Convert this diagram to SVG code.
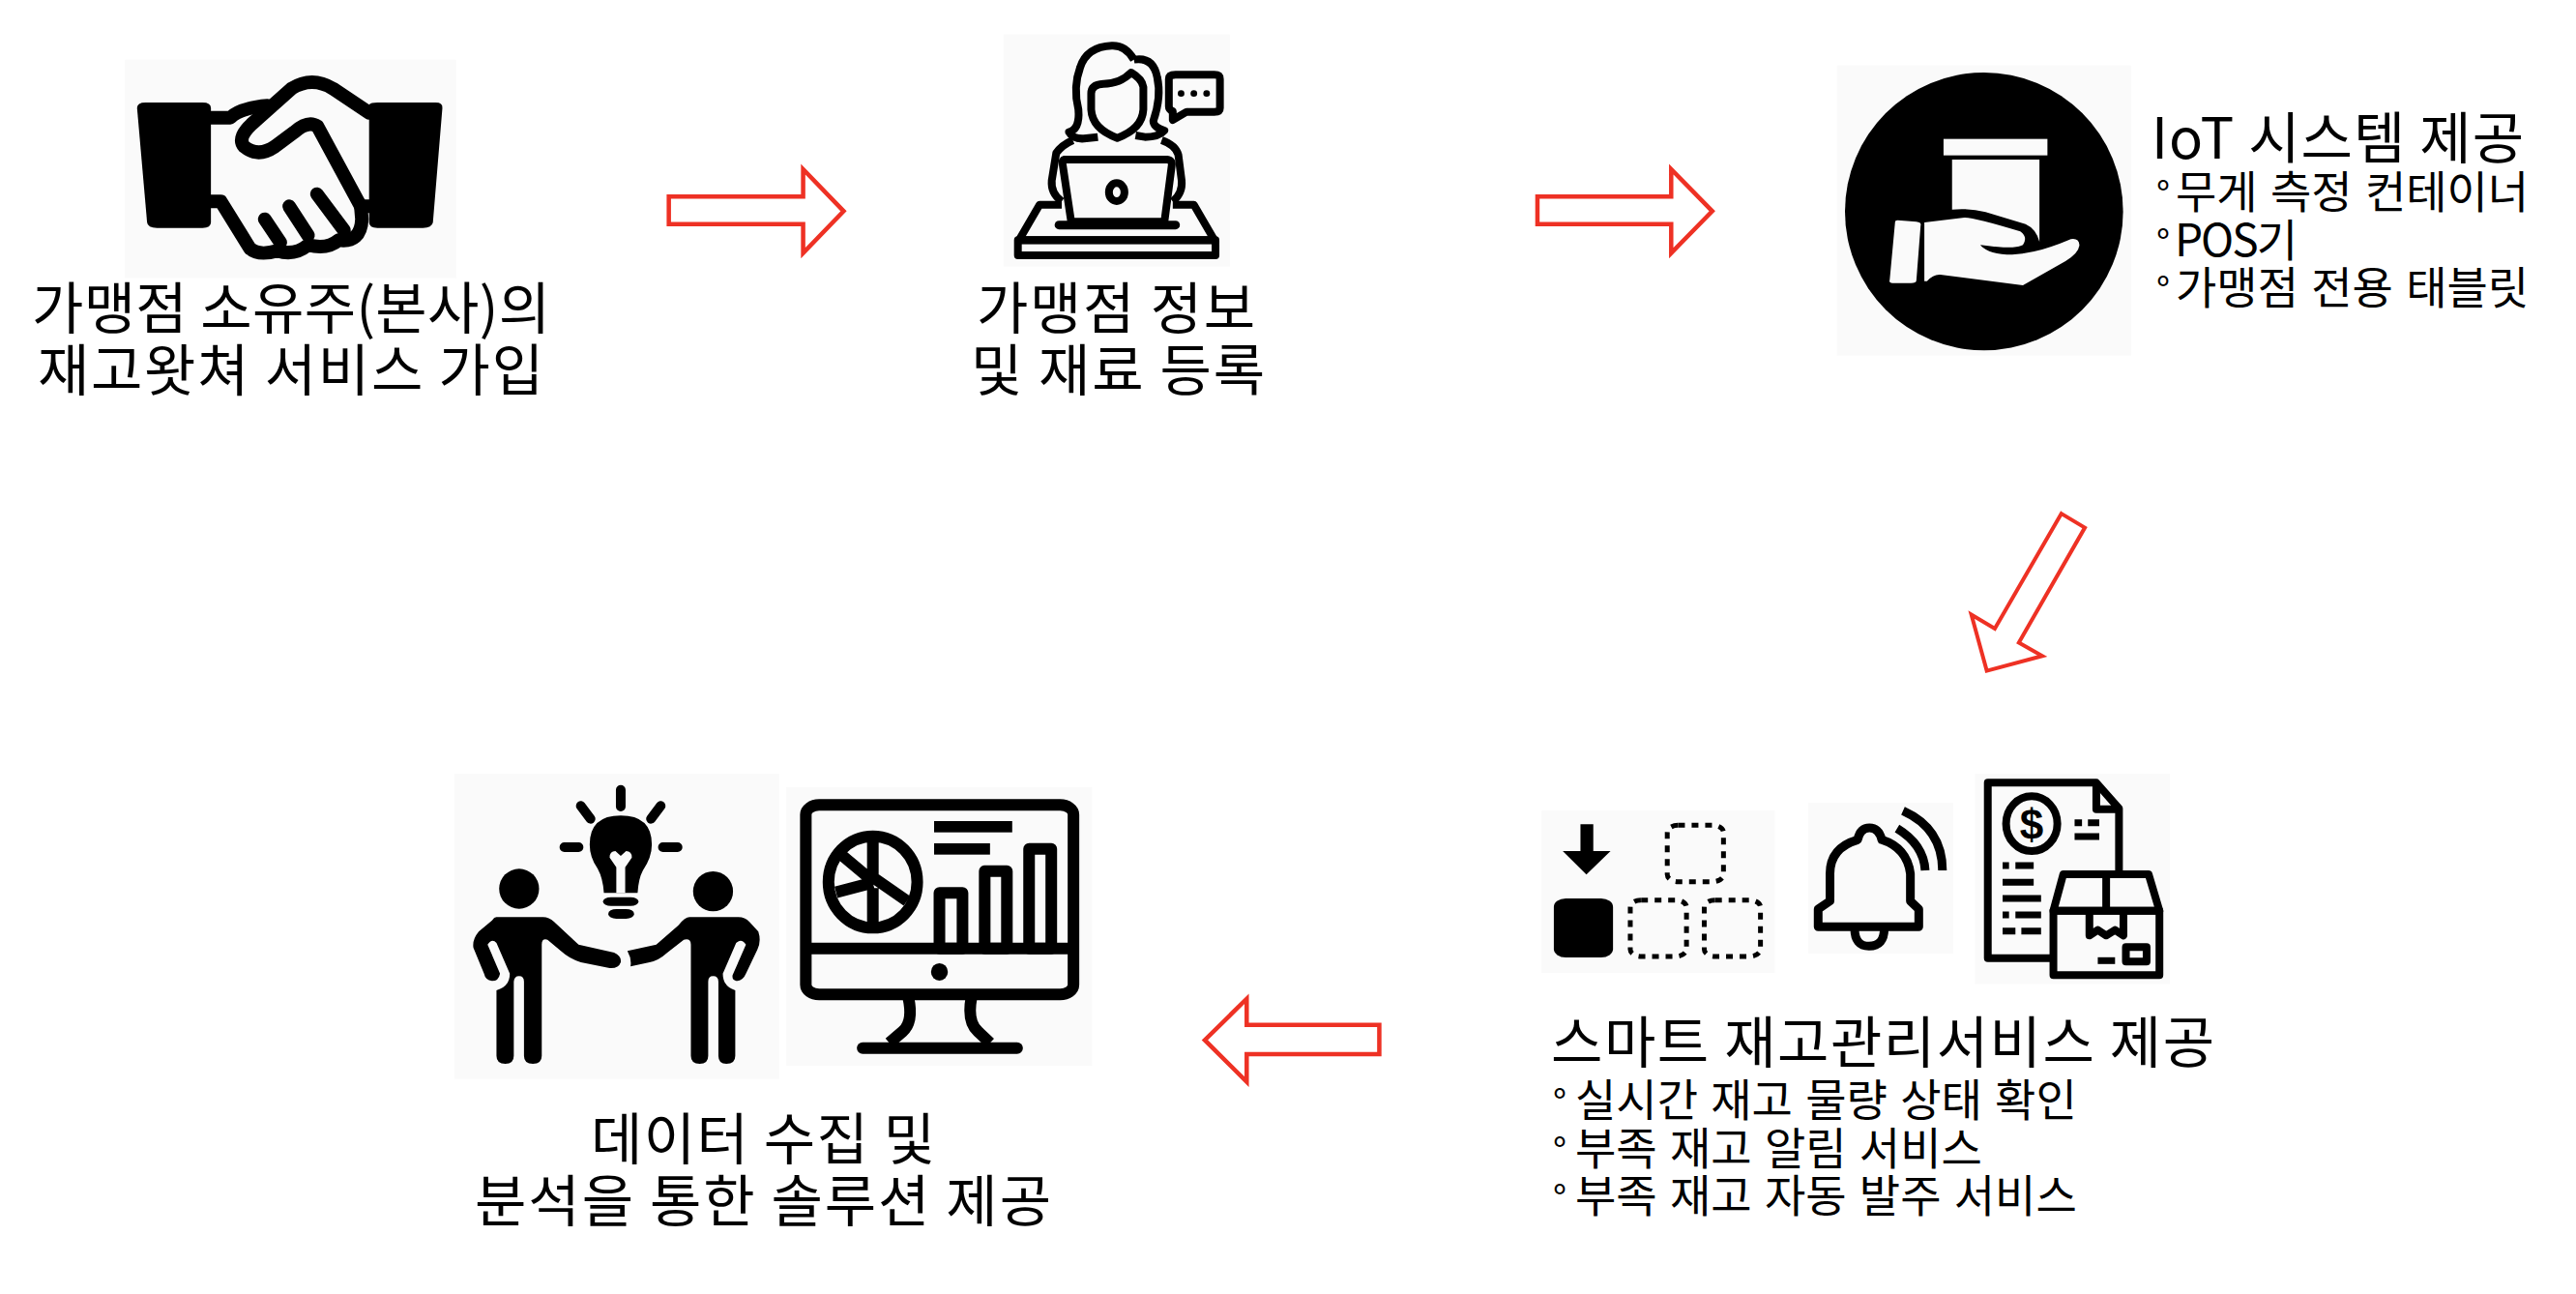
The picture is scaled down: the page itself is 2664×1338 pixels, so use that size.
<svg xmlns="http://www.w3.org/2000/svg" width="2664" height="1338" viewBox="0 0 2664 1338">
<style>
text{font-family:"Noto Sans CJK KR","Noto Sans",sans-serif;fill:#000}
.h{font-size:58px}
.b{font-size:46px;word-spacing:3px}
.o{font-size:38px}
.bg{fill:#fafafa;stroke:none}
.ic *{vector-effect:non-scaling-stroke}
.k{fill:#000;stroke:none}
.l{fill:#fafafa;stroke:none}
.s{fill:none;stroke:#000;stroke-linecap:butt;stroke-linejoin:round}
.r{fill:none;stroke:#000;stroke-linecap:round;stroke-linejoin:round}
.a{fill:#fff;stroke:#ee3124;stroke-width:4.5;stroke-linejoin:miter;vector-effect:non-scaling-stroke}
</style>
<rect width="2664" height="1338" fill="#fff"/>

<g id="node-join">
<g class="ic" transform="scale(.574,.3333)">
<rect class="bg" x="225" y="185" width="597" height="678"/>
<path class="k" d="M247,335Q247,318 262,318H365Q380,318 380,335V690Q380,707 365,707H283Q266,707 265,690Z"/>
<path class="k" d="M665,325Q668,318 680,318H785Q798,318 797,335L780,690Q778,707 762,707H680Q665,707 665,690Z"/>
<g class="r" stroke-width="14">
<path d="M380,365H415Q432,335 482,328"/>
<path d="M665,350L600,275Q562,235 525,275L460,375Q425,425 440,455Q465,490 495,455L530,410Q555,372 572,392L650,640"/>
<path d="M380,625H398L450,770Q465,795 500,778Q530,795 555,760Q590,775 610,745Q650,755 652,680L650,640H665"/>
<path d="M477,680L505,752"/>
<path d="M521,640L555,730"/>
<path d="M571,602L620,715"/>
</g>
</g>
<text class="h" x="33" y="340" textLength="536">가맹점 소유주(본사)의</text>
<text class="h" x="39" y="404" textLength="523">재고왓쳐 서비스 가입</text>
</g>

<g id="node-register">
<g class="ic" transform="translate(900,0) scale(.574,.3333)">
<rect class="bg" x="240" y="107" width="408" height="720"/>
<g class="s" stroke-width="8">
<path d="M475,185Q460,140 435,142Q390,145 378,210Q365,270 375,340Q378,400 358,410Q365,432 385,430L410,425"/>
<path d="M475,185Q510,175 517,240Q525,300 510,375Q510,395 530,405Q520,425 495,425L478,420"/>
<path d="M470,225Q450,260 420,260Q398,262 398,290V340Q400,400 445,428Q490,400 492,340V270Q490,245 470,225Z"/>
<path d="M365,435Q345,450 335,475L327,560Q325,600 345,625"/>
<path d="M525,435Q550,450 555,480L561,560Q563,600 545,625"/>
<path d="M350,495H535Q545,497 543,515L530,688H362L347,515Q345,497 350,495Z"/>
<ellipse cx="444" cy="596" rx="14" ry="28"/>
<path d="M345,635H305L268,745H620L583,635H545"/>
<path d="M266,745H622V792H266Z"/>
<path d="M550,232H620Q630,232 630,245V335Q630,347 620,347H570L545,372V345Q538,340 538,330V245Q538,232 550,232Z"/>
</g>
<path class="r" stroke-width="9" d="M340,698H550"/>
<path class="k" d="M266,737H622V757H266Z"/>
<ellipse class="k" cx="560" cy="290" rx="6" ry="10"/>
<ellipse class="k" cx="583" cy="290" rx="6" ry="10"/>
<ellipse class="k" cx="606" cy="290" rx="6" ry="10"/>
</g>
<text class="h" x="1010" y="340" textLength="288">가맹점 정보</text>
<text class="h" x="1004" y="404" textLength="304">및 재료 등록</text>
</g>

<g id="node-iot">
<g class="ic" transform="translate(1800,0) scale(.551,.3333)">
<rect class="bg" x="181" y="203" width="552" height="900"/>
<ellipse class="k" cx="457" cy="656" rx="261" ry="431"/>
<rect class="l" x="381" y="431" width="195" height="51"/>
<path class="l" d="M397,495H561V750Q555,710 535,695L460,658Q430,645 397,650Z"/>
<path class="l" d="M345,690L420,675Q440,675 525,718Q540,735 530,760Q515,775 450,760Q465,790 510,790Q560,785 620,742Q635,738 636,760Q635,785 610,810L530,885L375,852Q362,850 350,872H345Z"/>
<path class="l" d="M295,683L330,688Q340,690 338,700L330,870Q330,878 320,878H285Q278,878 280,868L290,690Q290,683 295,683Z"/>
</g>
<text class="h" x="2225" y="164" textLength="385">IoT 시스템 제공</text>
<text class="b" y="215"><tspan class="o" x="2230">°</tspan> <tspan x="2250">무게 측정 컨테이너</tspan></text>
<text class="b" y="265"><tspan class="o" x="2230">°</tspan> <tspan x="2249" letter-spacing="-2">POS기</tspan></text>
<text class="b" y="314"><tspan class="o" x="2230">°</tspan> <tspan x="2250">가맹점 전용 태블릿</tspan></text>
</g>

<g id="node-smart">
<g class="ic" transform="translate(1560,760) scale(.51,.3333)">
<rect class="bg" x="67" y="234" width="473" height="504"/>
<polygon class="k" points="146,277 172,277 172,360 207,360 158,433 110,360 146,360"/>
<rect class="k" x="92" y="507" width="120" height="183" rx="24" ry="26"/>
<g class="s" stroke-width="5" stroke-dasharray="7 7">
<rect x="322" y="280" width="114" height="175" rx="22" ry="22"/>
<rect x="247" y="512" width="114" height="175" rx="22" ry="22"/>
<rect x="397" y="512" width="114" height="175" rx="22" ry="22"/>
</g>
<rect class="bg" x="608" y="210" width="294" height="468"/>
<g class="s" stroke-width="9">
<path d="M652,430Q652,350 708,325Q713,288 732,288Q751,288 757,325Q808,350 815,430V515L832,540V595H628V540L652,515Z"/>
<path d="M702,600Q702,655 731,655Q762,655 762,600"/>
<path d="M800,235Q880,290 880,420"/>
<path d="M788,290Q842,340 845,420"/>
</g>
<rect class="bg" x="946" y="120" width="395" height="653"/>
<g class="s" stroke-width="8">
<path d="M1105,692H972V148H1192L1238,228V430"/>
<path d="M1192,148V230H1238"/>
<ellipse cx="1061" cy="275" rx="52" ry="85"/>
<path d="M1105,545L1125,432H1298L1320,545Z"/>
<rect x="1105" y="545" width="215" height="200"/>
<path d="M1212,432V545"/>
<path d="M1178,548V622L1195,605L1212,622L1230,605L1247,622V548"/>
<rect x="1252" y="658" width="42" height="45"/>
</g>
<g class="s" stroke-width="7">
<path d="M1148,272H1163M1175,272H1198M1148,315H1198"/>
<path d="M1002,405H1015M1028,405H1065M1002,457H1065M1002,507H1080M1002,558H1015M1028,558H1080M1002,608H1028M1040,608H1080"/>
<path d="M1195,700H1230"/>
</g>
</g>
<text x="2101" y="868" text-anchor="middle" font-size="44" font-weight="700" style="font-family:'Liberation Sans',sans-serif">$</text>
<text class="h" x="1604" y="1099" textLength="686">스마트 재고관리서비스 제공</text>
<text class="b" y="1154"><tspan class="o" x="1606">°</tspan> <tspan x="1629">실시간 재고 물량 상태 확인</tspan></text>
<text class="b" y="1204"><tspan class="o" x="1606">°</tspan> <tspan x="1629">부족 재고 알림 서비스</tspan></text>
<text class="b" y="1253"><tspan class="o" x="1606">°</tspan> <tspan x="1629">부족 재고 자동 발주 서비스</tspan></text>
</g>

<g id="node-data">
<g class="ic" transform="translate(440,780) scale(.459,.3333)">
<rect class="bg" x="65" y="60" width="732" height="947"/>
<g class="r" stroke-width="10">
<path d="M440,110V162M350,160L372,200M530,160L508,200M313,288H345M535,288H568"/>
</g>
<path class="k" d="M440,190Q510,190 510,280Q510,320 490,360Q480,385 478,430H402Q400,385 388,355Q370,320 370,280Q370,190 440,190Z"/>
<path class="l" d="M430,430V350L415,320Q415,300 428,300L440,315L452,300Q465,300 465,320L450,350V430Z"/>
<rect class="k" x="400" y="443" width="80" height="27" rx="18" ry="13"/>
<rect class="k" x="412" y="480" width="58" height="30" rx="18" ry="14"/>
<ellipse class="k" cx="211" cy="417" rx="45" ry="62"/>
<ellipse class="k" cx="648" cy="425" rx="45" ry="62"/>
<path class="k" d="M160,505H265Q278,505 290,520L345,590L425,615Q442,625 440,645Q435,665 415,663L350,645Q325,635 305,610L275,575Q262,570 262,590V935Q262,960 242,960Q222,960 222,935V705Q222,688 211,688Q200,688 199,705V935Q199,960 180,960Q160,960 160,935V732Q190,720 190,680L160,585Q150,570 140,590L168,680Q165,703 150,703Q135,700 132,680L108,600Q105,575 120,550L150,515Q155,505 160,505Z"/>
<path class="k" d="M595,505H705Q720,505 730,520L750,550Q757,580 748,605L722,680Q715,703 700,703Q690,700 692,685L722,590Q712,570 700,585L670,680Q670,720 698,732V935Q698,960 678,960Q660,960 660,935V705Q660,688 648,688Q637,688 637,705V935Q637,960 618,960Q598,960 598,935V590Q598,570 582,575L545,615Q525,640 505,645L462,658Q465,635 455,610L520,590L570,530Q585,505 595,505Z"/>
<rect class="bg" x="813" y="102" width="689" height="864"/>
<g class="s" stroke-width="12">
<rect x="857" y="157" width="603" height="588" rx="30" ry="30"/>
<path d="M857,602H1460"/>
<path d="M1088,755Q1100,830 1075,860L1045,895"/>
<path d="M1230,755Q1220,830 1245,860L1272,895"/>
<ellipse cx="1008" cy="396" rx="100" ry="142"/>
<path d="M1008,254V396M1008,415V538M940,315L1005,390M1012,385L1085,455M925,428L1008,398"/>
<rect x="1158" y="430" width="52" height="172"/>
<rect x="1260" y="362" width="50" height="240"/>
<rect x="1360" y="293" width="50" height="309"/>
</g>
<path class="r" stroke-width="12" d="M985,911H1333"/>
<rect class="k" x="1146" y="207" width="176" height="35"/>
<rect class="k" x="1146" y="276" width="126" height="35"/>
<ellipse class="k" cx="1158" cy="675" rx="19" ry="27"/>
</g>
<text class="h" x="611" y="1199" textLength="356">데이터 수집 및</text>
<text class="h" x="491" y="1263" textLength="596">분석을 통한 솔루션 제공</text>
</g>

<g id="connectors">
<polygon class="a" transform="scale(.574,.3333)" points="1205,610 1447,610 1447,525 1520,655 1447,785 1447,695 1205,695"/>
<polygon class="a" transform="translate(900,0) scale(.574,.3333)" points="1202,610 1443,610 1443,525 1517,655 1443,785 1443,695 1202,695"/>
<polygon class="a" transform="translate(1200,500) scale(.6378,.4146)" style="stroke-width:4" points="1461,75 1499,110 1392,397 1430,430 1340,467 1315,327 1353,362"/>
<polygon class="a" transform="translate(1200,500) scale(.6378,.4146)" points="355,1350 140,1350 140,1285 72,1388 140,1492 140,1423 355,1423"/>
</g>
</svg>
